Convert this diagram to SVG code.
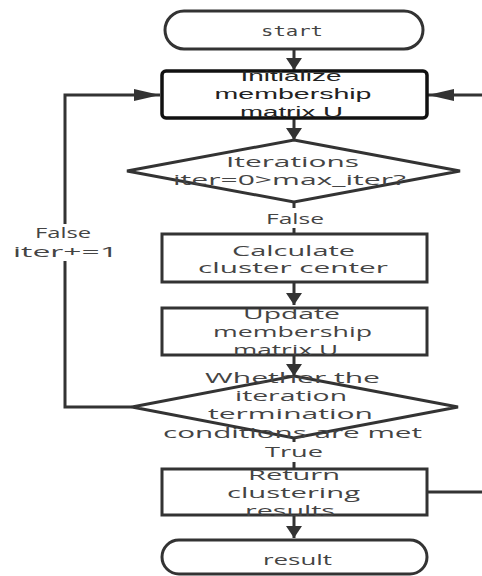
<svg xmlns="http://www.w3.org/2000/svg" width="482" height="576" viewBox="0 0 482 576">
<style>
.ln{fill:none;stroke:#333;stroke-width:3}
.box{fill:#fff;stroke:#333;stroke-width:3}
.ibox{fill:#fff;stroke:#111;stroke-width:3.5}
.t{font-family:"Open Sans","Noto Sans","DejaVu Sans",sans-serif;font-size:14.5px;fill:#444;text-anchor:middle}
.ti{font-family:"Liberation Sans",Arial,sans-serif;font-size:14.5px;fill:#222;text-anchor:middle}
.lbl{fill:#fff}
</style>
<defs>
<marker id="av" markerUnits="userSpaceOnUse" markerWidth="13" markerHeight="17" refX="12" refY="8" orient="auto" viewBox="0 0 13 17">
<path d="M0,0 L12,8 L0,16 z" fill="#333"/>
</marker>
<marker id="ah" markerUnits="userSpaceOnUse" markerWidth="27" markerHeight="12" refX="26" refY="6" orient="auto" viewBox="0 0 27 12">
<path d="M0,0 L26,6 L0,12 z" fill="#333"/>
</marker>
</defs>

<g id="connectors">
<line class="ln" x1="294" y1="49" x2="294" y2="70" marker-end="url(#av)"/>
<line class="ln" x1="294" y1="118" x2="294" y2="140" marker-end="url(#av)"/>
<line class="ln" x1="294" y1="202" x2="294" y2="234"/>
<line class="ln" x1="294" y1="282" x2="294" y2="305" marker-end="url(#av)"/>
<line class="ln" x1="294" y1="355" x2="294" y2="376" marker-end="url(#av)"/>
<line class="ln" x1="294" y1="438" x2="294" y2="469"/>
<line class="ln" x1="294" y1="515" x2="294" y2="538" marker-end="url(#av)"/>
<polyline class="ln" points="132,407 65,407 65,95 160,95" marker-end="url(#ah)"/>
<line class="ln" x1="484" y1="95" x2="428" y2="95" marker-end="url(#ah)"/>
<line class="ln" x1="427" y1="492" x2="484" y2="492" stroke-width="2"/>
<rect class="lbl" x="262" y="208" width="66" height="20"/>
<text class="t" x="295" y="224" textLength="58" lengthAdjust="spacingAndGlyphs">False</text>
<rect class="lbl" x="10" y="224" width="112" height="37"/>
<text class="t" x="63" y="238" textLength="56" lengthAdjust="spacingAndGlyphs">False</text>
<text class="t" x="65.5" y="257" textLength="105" lengthAdjust="spacingAndGlyphs">iter+=1</text>
<rect class="lbl" x="262" y="442" width="66" height="20"/>
<text class="t" x="294" y="457" textLength="58" lengthAdjust="spacingAndGlyphs">True</text>
</g>

<g id="start">
<rect class="box" x="165" y="11" width="258" height="38" rx="19" stroke-width="2.5"/>
<text class="t" x="292" y="36" textLength="62" lengthAdjust="spacingAndGlyphs" style="font-family:'DejaVu Sans Mono',monospace">start</text>
</g>

<g id="init">
<rect class="ibox" x="162" y="71" width="265" height="47" rx="4"/>
<text class="ti" x="291" y="81" textLength="101" lengthAdjust="spacingAndGlyphs">Initialize</text>
<text class="ti" x="293" y="99" textLength="157" lengthAdjust="spacingAndGlyphs">membership</text>
<text class="ti" x="291.5" y="117" textLength="103" lengthAdjust="spacingAndGlyphs">matrix U</text>
</g>

<g id="iter">
<polygon class="box" points="294,140 460,171 294,202 127,171" stroke-width="2.5"/>
<text class="t" x="292.5" y="167" textLength="133" lengthAdjust="spacingAndGlyphs">Iterations</text>
<text class="t" x="289.5" y="185" textLength="233" lengthAdjust="spacingAndGlyphs">iter=0&gt;max_iter?</text>
</g>

<g id="calc">
<rect class="box" x="162" y="234" width="265" height="48"/>
<text class="t" x="293.5" y="256" textLength="123" lengthAdjust="spacingAndGlyphs">Calculate</text>
<text class="t" x="293" y="273" textLength="190" lengthAdjust="spacingAndGlyphs">cluster center</text>
</g>

<g id="update">
<rect class="box" x="162" y="308" width="265" height="47"/>
<text class="t" x="291.5" y="319" textLength="97" lengthAdjust="spacingAndGlyphs">Update</text>
<text class="t" x="292.5" y="337" textLength="159" lengthAdjust="spacingAndGlyphs">membership</text>
<text class="t" x="285.5" y="355" textLength="105" lengthAdjust="spacingAndGlyphs">matrix U</text>
</g>

<g id="check">
<polygon class="box" points="294,376 458,407 294,438 132,407" stroke-width="2.5"/>
<text class="t" x="292.5" y="383" textLength="175" lengthAdjust="spacingAndGlyphs">Whether the</text>
<text class="t" x="291" y="401" textLength="112" lengthAdjust="spacingAndGlyphs">iteration</text>
<text class="t" x="290.5" y="419" textLength="165" lengthAdjust="spacingAndGlyphs">termination</text>
<text class="t" x="292.5" y="437.5" textLength="259" lengthAdjust="spacingAndGlyphs">conditions are met</text>
</g>

<g id="return">
<rect class="box" x="162" y="469" width="265" height="46"/>
<text class="t" x="294" y="480" textLength="92" lengthAdjust="spacingAndGlyphs">Return</text>
<text class="t" x="293.5" y="498" textLength="133" lengthAdjust="spacingAndGlyphs">clustering</text>
<text class="t" x="290" y="516" textLength="90" lengthAdjust="spacingAndGlyphs">results</text>
</g>

<g id="result">
<rect class="box" x="162" y="540" width="265" height="34" rx="17" stroke-width="2.5"/>
<text class="t" x="297.5" y="565" textLength="69" lengthAdjust="spacingAndGlyphs">result</text>
</g>
</svg>
